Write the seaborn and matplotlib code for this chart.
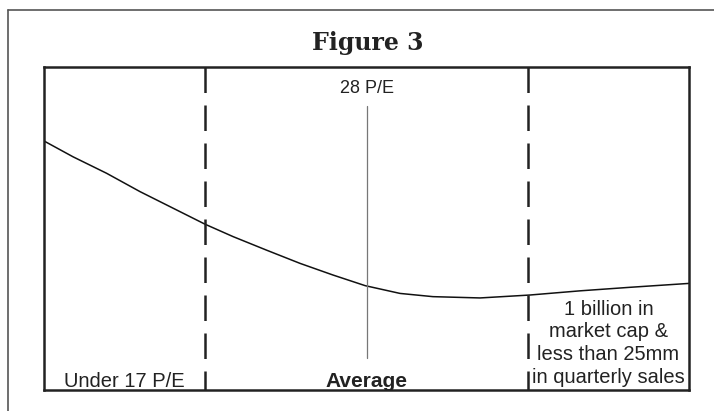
import numpy as np
import pandas as pd
import matplotlib
matplotlib.use("Agg")
import matplotlib.pyplot as plt
from matplotlib.lines import Line2D
import seaborn as sns

# Curve (x = position across the range, y = relative level)
curve_x = [0, 4.5, 9.7, 14.9, 20.0, 25.0, 29.3, 34.5, 39.7, 44.8, 49.8,
           55.2, 60.3, 67.6, 75.3, 83.1, 90.9, 100]
curve_y = [77.1, 72.2, 67.1, 61.4, 56.3, 51.3, 47.5, 43.3, 39.2, 35.6, 32.3,
           29.9, 28.9, 28.5, 29.4, 30.7, 31.8, 33.0]

# Zone boundaries and the average marker
zone_edges = [25, 75]
average_x = 50
average_span = [10, 88]

zone_labels = ["Under 17 P/E", "Average",
               "1 billion in\nmarket cap &\nless than 25mm\nin quarterly sales"]
zone_centers = [12.5, 50, 87.5]
top_label = "28 P/E"
title = "Figure 3"

df = pd.DataFrame({"x": curve_x, "y": curve_y})

sns.set_style("white")
plt.rcParams["font.family"] = ["Liberation Sans", "DejaVu Sans"]

fig = plt.figure(figsize=(7.14, 4.11), dpi=100)
ax = fig.add_axes([44 / 714, 21 / 411, 645 / 714, 323 / 411])

sns.lineplot(data=df, x="x", y="y", ax=ax, color="#111111", linewidth=1.1)

for xe in zone_edges:
    ax.axvline(xe, ymin=1, ymax=0, color="#222222", linewidth=1.8,
               dashes=(10.2, 5.0), zorder=3)

ax.plot([average_x, average_x], average_span, color="#777777", linewidth=0.9)

ax.set_xlim(0, 100)
ax.set_ylim(0, 100)
ax.set_xticks([])
ax.set_yticks([])
ax.set_xlabel("")
ax.set_ylabel("")
for sp in ax.spines.values():
    sp.set_color("#222222")
    sp.set_linewidth(1.8)

ax.text(average_x, 92.0, top_label, ha="center", va="baseline",
        fontsize=13, color="#222222")
ax.text(zone_centers[0], 0.9, zone_labels[0], ha="center", va="baseline",
        fontsize=14.5, color="#222222")
ax.text(zone_centers[1], 0.9, zone_labels[1], ha="center", va="baseline",
        fontsize=15, fontweight="bold", color="#222222")
ax.text(zone_centers[2], 2.2, zone_labels[2], ha="center", va="baseline",
        multialignment="center", linespacing=1.25, fontsize=14.5, color="#222222")

fig.text(367.5 / 714, (411 - 50) / 411, title, ha="center", va="baseline",
         fontsize=17, fontweight="bold", family="DejaVu Serif", color="#222222")

# outer frame (top and left edges)
fx = 8 / 714
fy = (411 - 10) / 411
fig.add_artist(Line2D([fx, 1], [fy, fy], color="#555555", linewidth=1.2,
                      transform=fig.transFigure))
fig.add_artist(Line2D([fx, fx], [0, fy], color="#555555", linewidth=1.2,
                      transform=fig.transFigure))

fig.savefig("out.png", dpi=100)
